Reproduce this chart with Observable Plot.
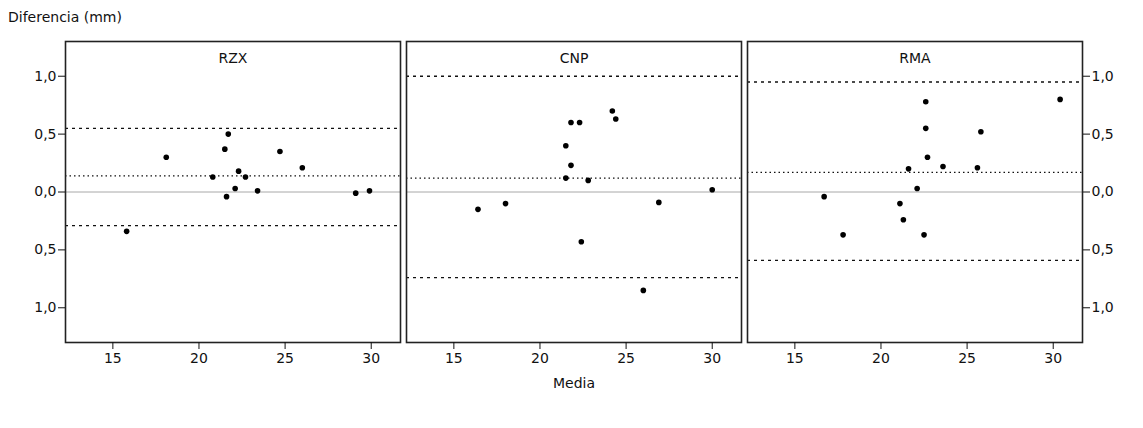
<!DOCTYPE html>
<html>
<head>
<meta charset="utf-8">
<script src="https://cdn.jsdelivr.net/npm/d3@7"></script>
<script src="https://cdn.jsdelivr.net/npm/@observablehq/plot@0.6"></script>
<style>
  html, body { margin: 0; padding: 0; background: #fff; }
  #wrap { position: relative; width: 1143px; height: 428px; font-family: "DejaVu Sans", Verdana, sans-serif; }
  #title { position: absolute; left: 8px; top: 9px; font-size: 14px; color: #111; }
  #xlabel { position: absolute; left: 574px; top: 375px; transform: translateX(-50%); font-size: 14px; color: #111; }
</style>
</head>
<body>
<div id="wrap">
  <div id="chart"></div>
  <div id="title">Diferencia (mm)</div>
  <div id="xlabel">Media</div>
</div>
<script>
// Panels
const panels = ["RZX", "CNP", "RMA"];

// RZX
const rzxMedia = [15.8, 18.1, 21.7, 21.5, 24.7, 26.0, 20.8, 22.3, 22.7, 22.1, 21.6, 23.4, 29.1, 29.9];
const rzxDif   = [-0.34, 0.30, 0.50, 0.37, 0.35, 0.21, 0.13, 0.18, 0.13, 0.03, -0.04, 0.01, -0.01, 0.01];
// CNP
const cnpMedia = [24.2, 24.4, 21.8, 22.3, 21.5, 21.8, 21.5, 22.8, 30.0, 16.4, 18.0, 26.9, 22.4, 26.0];
const cnpDif   = [0.70, 0.63, 0.60, 0.60, 0.40, 0.23, 0.12, 0.10, 0.02, -0.15, -0.10, -0.09, -0.43, -0.85];
// RMA
const rmaMedia = [22.6, 30.4, 22.6, 25.8, 22.7, 21.6, 23.6, 25.6, 22.1, 16.7, 21.1, 21.3, 17.8, 22.5];
const rmaDif   = [0.78, 0.80, 0.55, 0.52, 0.30, 0.20, 0.22, 0.21, 0.03, -0.04, -0.10, -0.24, -0.37, -0.37];

// Mean difference and limits of agreement per panel
const meanDif = [0.14, 0.12, 0.17];
const upperLoA = [0.55, 1.00, 0.95];
const lowerLoA = [-0.29, -0.74, -0.59];

// Tick values
const xTicks = [15, 20, 25, 30];
const yTicks = [-1.0, -0.5, 0.0, 0.5, 1.0];

const series = {RZX: [rzxMedia, rzxDif], CNP: [cnpMedia, cnpDif], RMA: [rmaMedia, rmaDif]};
const points = panels.flatMap(p => series[p][0].map((m, i) => ({panel: p, media: m, dif: series[p][1][i]})));
const lines = panels.map((p, i) => ({panel: p, mean: meanDif[i], up: upperLoA[i], lo: lowerLoA[i]}));

const fmt = d => Math.abs(d).toFixed(1).replace(".", ",");
const font = "DejaVu Sans, Verdana, sans-serif";

const chart = Plot.plot({
  width: 1143,
  height: 428,
  marginLeft: 64,
  marginRight: 59,
  marginTop: 41,
  marginBottom: 86,
  style: {fontFamily: font, fontSize: "14px", color: "#111", background: "#fff"},
  fx: {domain: panels, paddingInner: 0.0175, paddingOuter: 0, axis: null, label: null},
  x: {domain: [12.25, 31.7]},
  y: {domain: [-1.3, 1.3]},
  marks: [
    Plot.ruleY([0], {stroke: "#a8a8a8", strokeWidth: 1}),
    Plot.ruleY(lines, {fx: "panel", y: "up", stroke: "#111", strokeDasharray: "3,4", strokeWidth: 1.3}),
    Plot.ruleY(lines, {fx: "panel", y: "lo", stroke: "#111", strokeDasharray: "3,4", strokeWidth: 1.3}),
    Plot.ruleY(lines, {fx: "panel", y: "mean", stroke: "#111", strokeDasharray: "1.5,3", strokeWidth: 1.3}),
    Plot.dot(points, {fx: "panel", x: "media", y: "dif", r: 2.8, fill: "black", stroke: "none"}),
    Plot.text(panels, {fx: d => d, text: d => d, frameAnchor: "top", dy: 12, fontSize: 14, fill: "#111"}),
    Plot.frame({stroke: "#222", strokeWidth: 1.6}),
    Plot.axisX({ticks: xTicks, tickSize: 7, tickPadding: 4, label: null, fontSize: 14, tickFormat: d => String(d)}),
    Plot.axisY({anchor: "left", ticks: yTicks, tickSize: 7, tickPadding: 2, label: null, tickFormat: fmt, fontSize: 14}),
    Plot.axisY({anchor: "right", ticks: yTicks, tickSize: 7, tickPadding: 2, label: null, tickFormat: fmt, fontSize: 14})
  ]
});
document.getElementById("chart").appendChild(chart);
</script>
</body>
</html>
